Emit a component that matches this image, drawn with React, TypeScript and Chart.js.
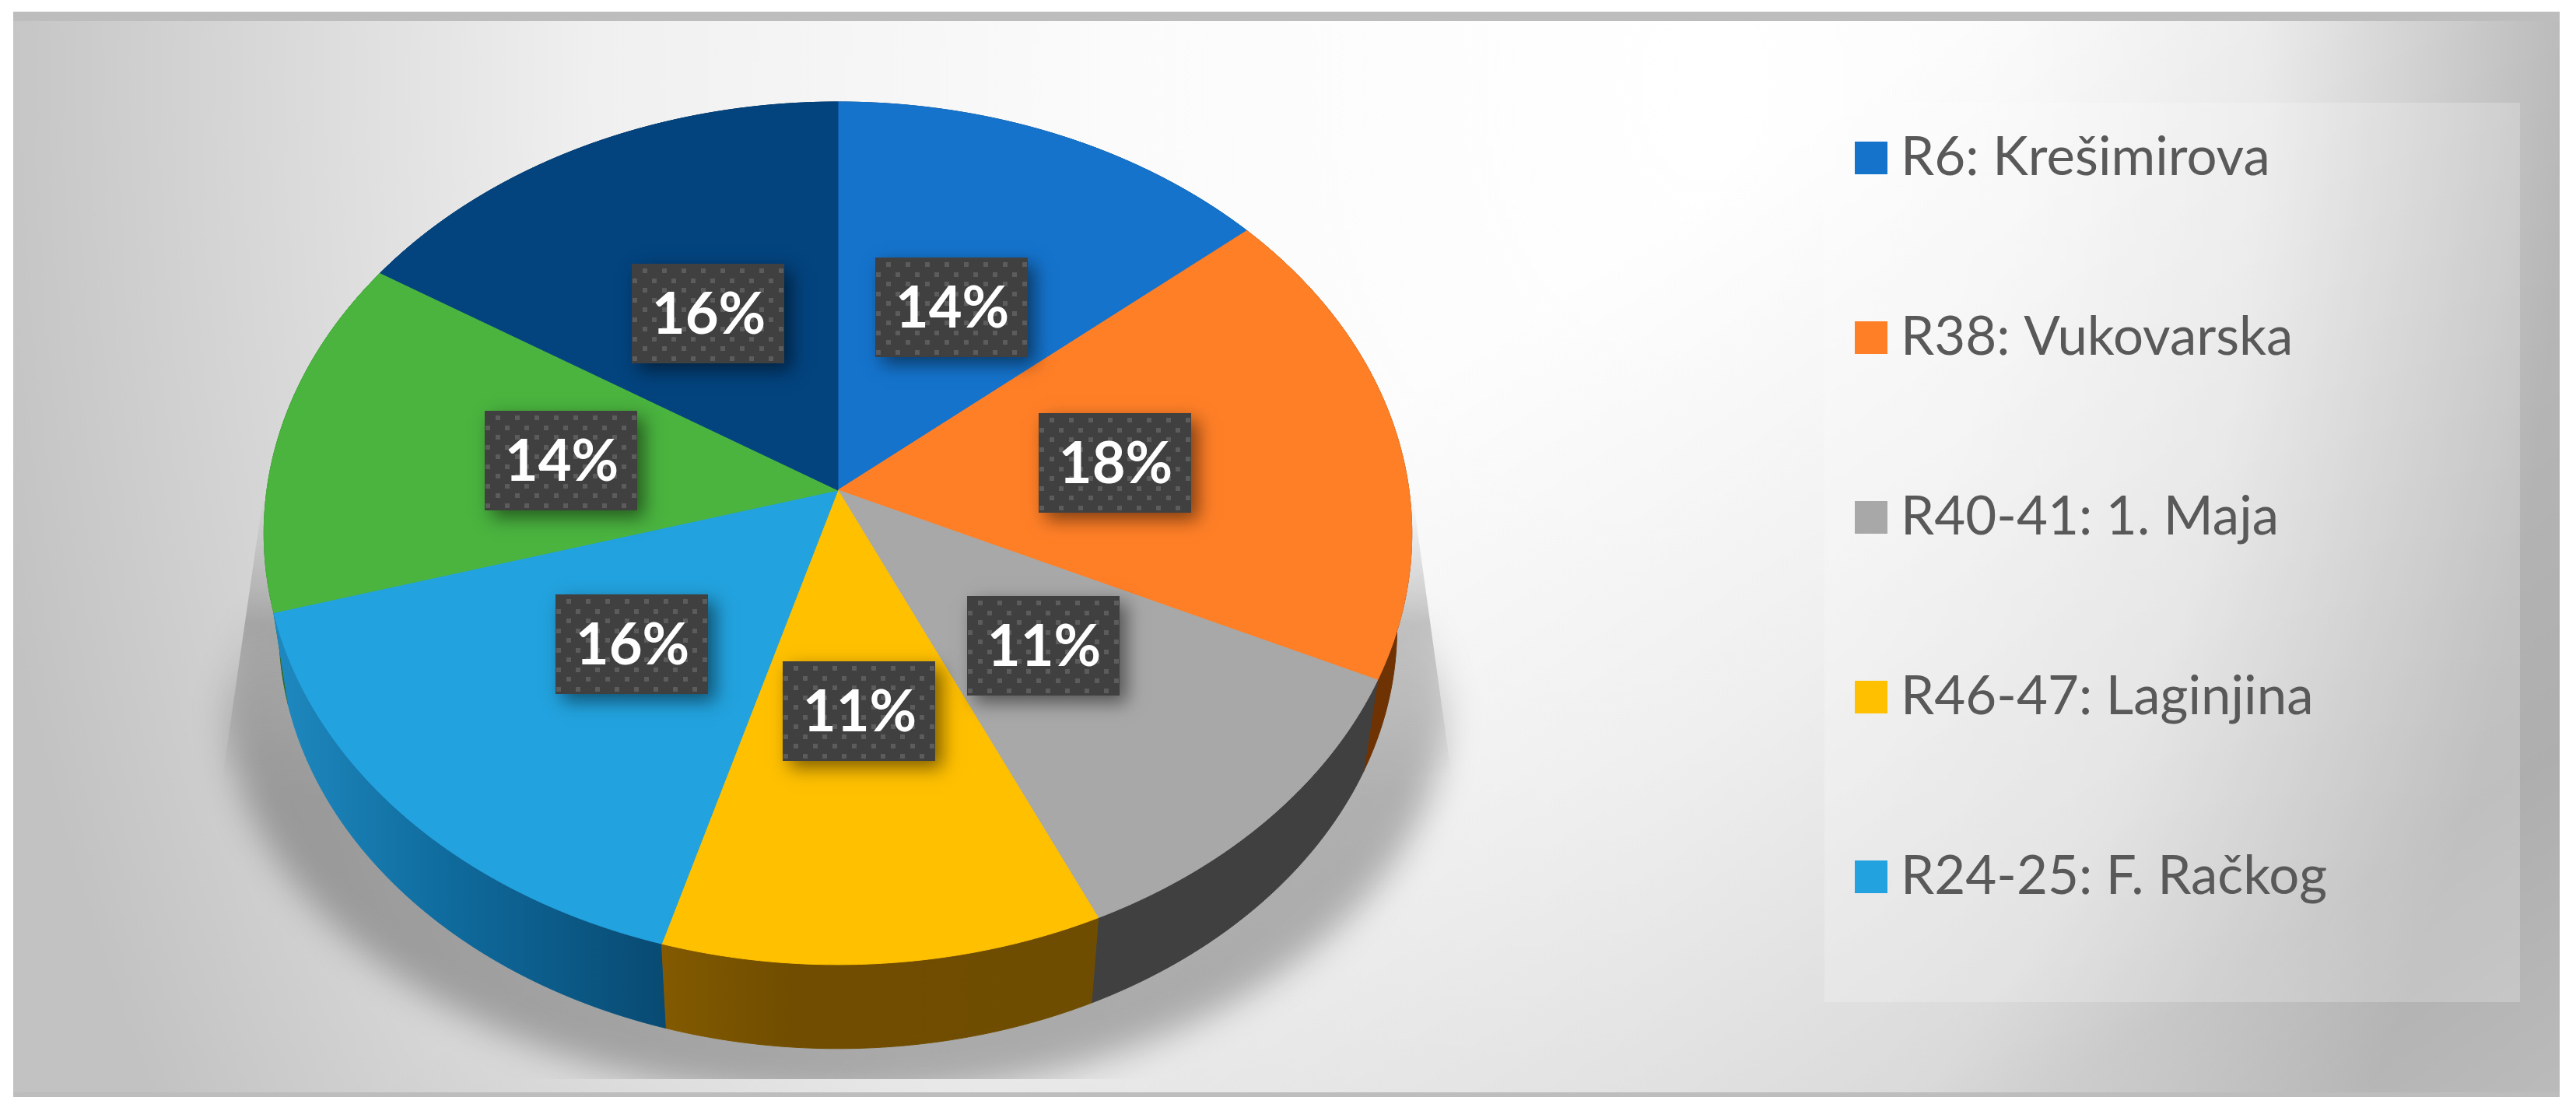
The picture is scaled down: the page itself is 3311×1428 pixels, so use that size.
import React, { useEffect, useRef } from "react";
import { Chart, registerables } from "chart.js";

Chart.register(...registerables);

const categories = ["R6: Krešimirova", "R38: Vukovarska", "R40-41: 1. Maja", "R46-47: Laginjina", "R24-25: F. Račkog", "", ""];
const shares = [13.8, 18.2, 11.2, 11.3, 16, 13.5, 16];
const shareLabels = ["14%", "18%", "11%", "11%", "16%", "14%", "16%"];
const faceColors = ["#1573CC", "#FF7F27", "#A8A8A8", "#FFC000", "#22A2DE", "#4AB43F", "#03437E"];
const rimColors = ["#0B3F70", "#6F3203", "#404040", "#755000", "#0F6A9C", "#2A6A22", "#02264A"];

const W = 3311;
const H = 1428;

// perspective of the tilted disc
const persp = { sx: 734 / 630, sy: 548.9 / 630, c: -0.1, vpY: 5390, rimScale: 0.974 };

function project(cx: number, cy: number, R: number, theta: number, rad = 1, bottom = false) {
  const u = Math.sin(theta) * rad;
  const v = -Math.cos(theta) * rad;
  const d = 1 + persp.c * v;
  let x = cx + (R * persp.sx * u) / d;
  let y = cy + (R * persp.sy * v) / d;
  if (bottom) {
    x = cx + persp.rimScale * (x - cx);
    y = persp.vpY + persp.rimScale * (y - persp.vpY);
  }
  return [x, y];
}

const scenePlugin = {
  id: "scene",
  beforeDraw(chart: any) {
    const { ctx } = chart;
    ctx.save();
    ctx.fillStyle = "#ffffff";
    ctx.fillRect(0, 0, W, H);
    ctx.fillStyle = "#BDBDBD";
    ctx.fillRect(17, 15, 3273, 1395);

    // background: off-centre radial gradient, stretched vertically
    ctx.save();
    ctx.beginPath();
    ctx.rect(17, 27, 3273, 1377);
    ctx.clip();
    ctx.translate(0, 100);
    ctx.scale(1, 1.5);
    const g = ctx.createRadialGradient(2220, 7, 0, 1620, 0, 1672);
    g.addColorStop(0, "#ffffff");
    g.addColorStop(0.35, "#fbfbfb");
    g.addColorStop(0.64, "#f0f0f0");
    g.addColorStop(0.75, "#e2e2e2");
    g.addColorStop(1, "#c2c2c2");
    ctx.fillStyle = g;
    ctx.fillRect(0, -100, W, H);
    ctx.restore();
    const o = ctx.createLinearGradient(2100, 300, 3000, 1650);
    o.addColorStop(0, "rgba(0,0,0,0)");
    o.addColorStop(0.75, "rgba(0,0,0,0.10)");
    o.addColorStop(1, "rgba(0,0,0,0.03)");
    ctx.fillStyle = o;
    ctx.fillRect(17, 27, 3273, 1377);

    // sharp upper wedge of the pie's ground shadow
    const w = ctx.createLinearGradient(0, 640, 0, 1000);
    w.addColorStop(0, "rgba(0,0,0,0)");
    w.addColorStop(0.45, "rgba(0,0,0,0.2)");
    w.addColorStop(1, "rgba(0,0,0,0)");
    ctx.fillStyle = w;
    ctx.beginPath();
    ctx.moveTo(338, 640);
    ctx.lineTo(1816, 640);
    ctx.lineTo(1866, 1000);
    ctx.lineTo(286, 1000);
    ctx.closePath();
    ctx.fill();

    // soft lower part of the ground shadow
    ctx.save();
    ctx.beginPath();
    ctx.rect(17, 27, 3273, 1360);
    ctx.clip();
    ctx.filter = "blur(22px)";
    const s = ctx.createLinearGradient(0, 780, 0, 1000);
    s.addColorStop(0, "rgba(0,0,0,0)");
    s.addColorStop(1, "rgba(0,0,0,0.27)");
    ctx.fillStyle = s;
    ctx.beginPath();
    ctx.moveTo(320, 780);
    ctx.lineTo(1835, 780);
    ctx.lineTo(1860, 900);
    ctx.ellipse(1075, 900, 785, 510, 0, 0, Math.PI);
    ctx.closePath();
    ctx.fill();
    ctx.restore();

    // legend panel
    ctx.fillStyle = "rgba(255,255,255,0.22)";
    ctx.fillRect(2345, 132, 894, 1156);
    ctx.restore();
  },
  beforeDatasetDraw(chart: any) {
    const { ctx } = chart;
    const meta = chart.getDatasetMeta(0);
    const arcs = meta.data.map((a: any, i: number) => ({ a, i, mid: (a.startAngle + a.endAngle) / 2 + Math.PI / 2 }));
    const steps = 90;
    ctx.save();
    // rim, back to front
    const order = [...arcs].sort((p: any, q: any) => -Math.cos(p.mid) - -Math.cos(q.mid));
    for (const { a, i } of order) {
      const t0 = a.startAngle + Math.PI / 2;
      const t1 = a.endAngle + Math.PI / 2;
      ctx.beginPath();
      for (let k = 0; k <= steps; k++) {
        const t = t0 + ((t1 - t0) * k) / steps;
        const [x, y] = project(a.x, a.y, a.outerRadius, t);
        k ? ctx.lineTo(x, y) : ctx.moveTo(x, y);
      }
      for (let k = steps; k >= 0; k--) {
        const t = t0 + ((t1 - t0) * k) / steps;
        const [x, y] = project(a.x, a.y, a.outerRadius, t, 1, true);
        ctx.lineTo(x, y);
      }
      ctx.closePath();
      let fill: any = rimColors[i];
      if (i === 4) {
        const g = ctx.createLinearGradient(360, 0, 855, 0);
        g.addColorStop(0, "#1E88BE");
        g.addColorStop(0.45, "#0F6A9C");
        g.addColorStop(1, "#084A72");
        fill = g;
      }
      if (i === 3) {
        const g = ctx.createLinearGradient(850, 0, 1408, 0);
        g.addColorStop(0, "#835A00");
        g.addColorStop(0.3, "#704D00");
        g.addColorStop(1, "#6F4D00");
        fill = g;
      }
      ctx.fillStyle = fill;
      ctx.strokeStyle = fill;
      ctx.lineWidth = 1;
      ctx.fill();
      ctx.stroke();
    }
    // top face
    for (const { a, i } of arcs) {
      const t0 = a.startAngle + Math.PI / 2;
      const t1 = a.endAngle + Math.PI / 2;
      ctx.beginPath();
      ctx.moveTo(a.x, a.y);
      for (let k = 0; k <= steps; k++) {
        const t = t0 + ((t1 - t0) * k) / steps;
        const [x, y] = project(a.x, a.y, a.outerRadius, t);
        ctx.lineTo(x, y);
      }
      ctx.closePath();
      ctx.fillStyle = a.options.backgroundColor;
      ctx.strokeStyle = a.options.backgroundColor;
      ctx.lineWidth = 1;
      ctx.fill();
      ctx.stroke();
    }
    ctx.restore();
    return false;
  },
  afterDatasetsDraw(chart: any) {
    const { ctx } = chart;
    const meta = chart.getDatasetMeta(0);
    const boxW = 196;
    const boxH = 128;
    meta.data.forEach((a: any, i: number) => {
      const mid = (a.startAngle + a.endAngle) / 2 + Math.PI / 2;
      const [x, y] = project(a.x, a.y, a.outerRadius, mid, 0.493);
      const left = Math.round(x - boxW / 2);
      const top = Math.round(y - boxH / 2);
      ctx.save();
      ctx.shadowColor = "rgba(0,0,0,0.5)";
      ctx.shadowBlur = 22;
      ctx.shadowOffsetX = 9;
      ctx.shadowOffsetY = 9;
      ctx.fillStyle = "#404040";
      ctx.fillRect(left, top, boxW, boxH);
      ctx.restore();
      ctx.save();
      ctx.beginPath();
      ctx.rect(left, top, boxW, boxH);
      ctx.clip();
      ctx.fillStyle = "#5C5C5C";
      for (let r = 0; r < 11; r++) {
        const ry = top + 6 + r * 12.5;
        const off = r % 2 === 0 ? 14 : 1;
        for (let q = 0; q < 9; q++) ctx.fillRect(left + off + q * 25, Math.round(ry), 6, 6);
      }
      ctx.restore();
      ctx.save();
      ctx.fillStyle = "#ffffff";
      ctx.font = "bold 74px Lato";
      ctx.textAlign = "center";
      ctx.textBaseline = "middle";
      ctx.fillText(shareLabels[i], left + boxW / 2 + 1, top + boxH / 2 + 2);
      ctx.restore();
    });

    // legend entries
    ctx.save();
    let row = 0;
    chart.data.labels.forEach((name: string, i: number) => {
      if (!name) return;
      const cy = 203 + row * 231;
      ctx.fillStyle = faceColors[i];
      ctx.fillRect(2384, cy - 21, 42, 42);
      ctx.fillStyle = "#595959";
      ctx.font = "69px Lato";
      ctx.textAlign = "left";
      ctx.textBaseline = "alphabetic";
      ctx.fillText(name, 2443, cy + 22);
      row++;
    });
    ctx.restore();
  },
};

export default function App() {
  const ref = useRef<HTMLCanvasElement>(null);
  useEffect(() => {
    const chart = new Chart(ref.current!, {
      type: "pie",
      data: {
        labels: categories,
        datasets: [{ data: shares, backgroundColor: faceColors, borderWidth: 0 }],
      },
      options: {
        animation: false,
        responsive: false,
        devicePixelRatio: 1,
        layout: { padding: { left: 0, top: 0, right: 1157, bottom: 168 } },
        plugins: { legend: { display: false }, tooltip: { enabled: false } },
      },
      plugins: [scenePlugin],
    } as any);
    return () => chart.destroy();
  }, []);
  return (
    <div style={{ position: "absolute", left: 0, top: 0, width: W, height: H, overflow: "hidden", background: "#fff" }}>
      <canvas ref={ref} width={W} height={H} style={{ display: "block" }} />
    </div>
  );
}
